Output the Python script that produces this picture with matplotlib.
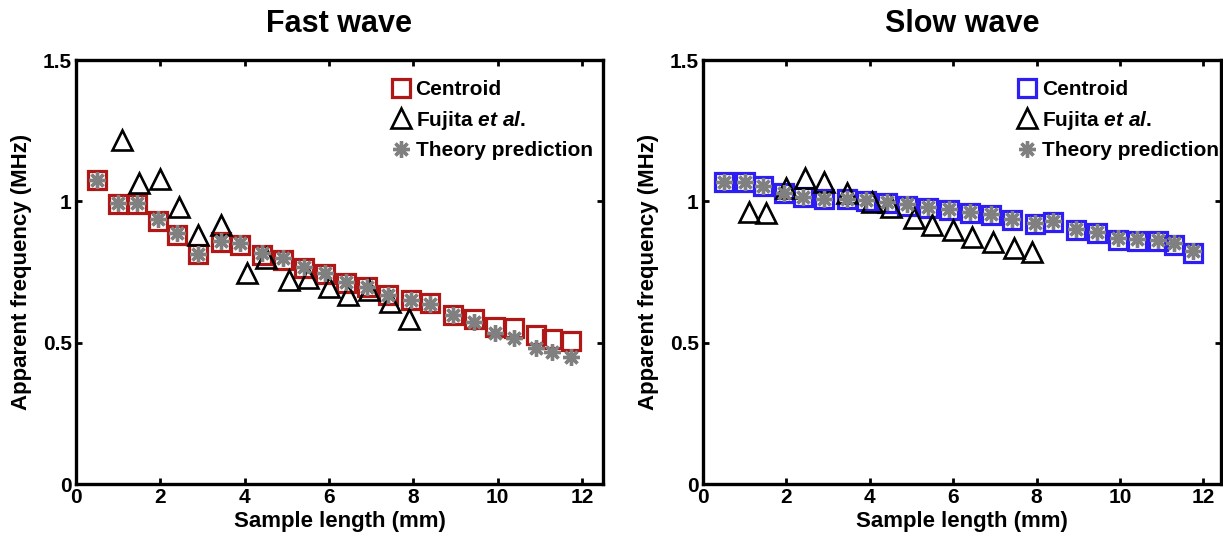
import matplotlib
matplotlib.use("Agg")
import matplotlib.pyplot as plt
from matplotlib.ticker import FuncFormatter

plt.rcParams['font.family'] = ['Liberation Sans', 'DejaVu Sans']
plt.rcParams['font.weight'] = 'bold'
plt.rcParams['mathtext.fontset'] = 'custom'
plt.rcParams['mathtext.it'] = 'Liberation Sans:italic:bold'
plt.rcParams['mathtext.rm'] = 'Liberation Sans:bold'

# sample lengths (mm)
length = [0.5, 1.0, 1.45, 1.95, 2.4, 2.9, 3.45, 3.9, 4.4, 4.9, 5.4, 5.9,
          6.4, 6.9, 7.4, 7.95, 8.4, 8.95, 9.45, 9.95, 10.4, 10.9, 11.3, 11.75]
fujita_length = [1.1, 1.5, 2.0, 2.45, 2.9, 3.45, 4.05, 4.5, 5.05, 5.5, 6.0,
                 6.45, 6.95, 7.45, 7.9]

# fast wave (MHz)
fast_centroid = [1.074, 0.989, 0.989, 0.929, 0.880, 0.813, 0.855, 0.845, 0.809,
                 0.791, 0.763, 0.742, 0.710, 0.696, 0.668, 0.650, 0.640, 0.597,
                 0.583, 0.555, 0.551, 0.527, 0.512, 0.505]
fast_theory = [1.074, 0.993, 0.993, 0.936, 0.887, 0.815, 0.858, 0.852, 0.816,
               0.799, 0.767, 0.745, 0.714, 0.698, 0.668, 0.650, 0.636, 0.597,
               0.572, 0.533, 0.516, 0.480, 0.466, 0.449]
fast_fujita = [1.216, 1.064, 1.078, 0.979, 0.880, 0.915, 0.746, 0.799, 0.721,
               0.728, 0.696, 0.668, 0.686, 0.643, 0.583]

# slow wave (MHz)
slow_centroid = [1.067, 1.067, 1.053, 1.028, 1.014, 1.007, 1.007, 1.000, 0.993,
                 0.985, 0.975, 0.968, 0.958, 0.950, 0.933, 0.919, 0.926, 0.897,
                 0.887, 0.862, 0.859, 0.859, 0.845, 0.816]
slow_theory = [1.067, 1.067, 1.055, 1.030, 1.016, 1.009, 1.009, 1.003, 0.997,
               0.990, 0.980, 0.973, 0.963, 0.955, 0.938, 0.925, 0.930, 0.903,
               0.893, 0.869, 0.866, 0.864, 0.851, 0.823]
slow_fujita = [0.961, 0.957, 1.046, 1.081, 1.067, 1.028, 0.996, 0.979, 0.940,
               0.915, 0.897, 0.873, 0.855, 0.834, 0.819]

fig = plt.figure(figsize=(12.23, 5.35), dpi=100)
ax1 = fig.add_axes([76 / 1223, 51 / 535, 527 / 1223, 424 / 535])
ax2 = fig.add_axes([703 / 1223, 51 / 535, 518 / 1223, 424 / 535])

panels = [
    (ax1, "Fast wave", fast_centroid, fast_fujita, fast_theory, '#b01818', 12.5, 0.992),
    (ax2, "Slow wave", slow_centroid, slow_fujita, slow_theory, '#2e1ef2', 12.42, 1.008),
]

for ax, title, cen, fuj, th, col, xmax, legx in panels:
    ax.plot(length, cen, 's', ms=13, mfc='none', mec=col, mew=2.3,
            label='Centroid')
    ax.plot(fujita_length, fuj, '^', ms=15, mfc='none', mec='black', mew=1.9,
            label=r'Fujita $\it{et\ al.}$')
    ax.plot(length, th, marker=(8, 2, 0), ls='none', ms=12, mec='#808080',
            mew=2.4, label='Theory prediction')

    ax.set_xlim(0, xmax)
    ax.set_ylim(0, 1.5)
    ax.set_xticks([0, 2, 4, 6, 8, 10, 12])
    ax.set_yticks([0, 0.5, 1, 1.5])
    ax.yaxis.set_major_formatter(FuncFormatter(lambda v, p: '%g' % v))
    ax.tick_params(direction='in', length=4, width=2, labelsize=15,
                   top=True, right=True, pad=3)
    for s in ax.spines.values():
        s.set_linewidth(2.4)
    ax.set_title(title, fontsize=22, fontweight='bold', pad=20)
    ax.set_xlabel('Sample length (mm)', fontsize=16, fontweight='bold',
                  labelpad=3)
    ax.set_ylabel('Apparent frequency (MHz)', fontsize=16, fontweight='bold',
                  labelpad=8)
    ax.legend(loc='upper right', bbox_to_anchor=(legx, 0.967), frameon=False,
              fontsize=15, numpoints=1, handlelength=0.8, handletextpad=0.3,
              labelspacing=0.45, borderaxespad=0, borderpad=0.3)

fig.savefig('out.png', dpi=100)
